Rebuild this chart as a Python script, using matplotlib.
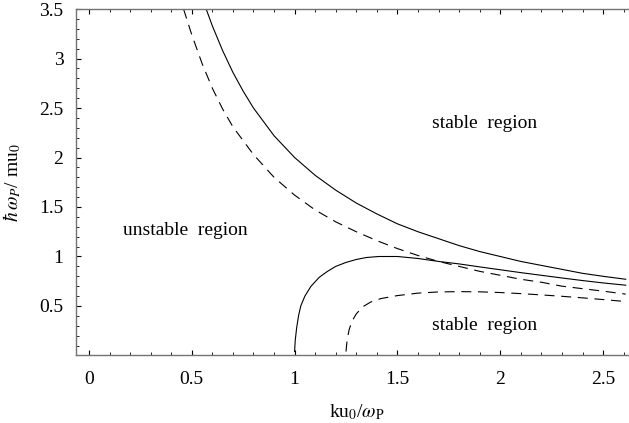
import numpy as np
import matplotlib
matplotlib.use("Agg")
import matplotlib.pyplot as plt
from matplotlib.ticker import MultipleLocator, FixedLocator

plt.rcParams['font.family'] = ['Liberation Serif', 'DejaVu Serif']
plt.rcParams['mathtext.fontset'] = 'stix'

# ---- data (K = k u0 / wP, H = hbar wP / m u0) ----
upper_solid_k = [0.57, 0.60, 0.65, 0.70, 0.75, 0.80, 0.90, 1.00, 1.10, 1.20, 1.30, 1.40,
                 1.50, 1.60, 1.70, 1.80, 1.90, 2.00, 2.10, 2.20, 2.30, 2.40, 2.50, 2.61]
upper_solid_h = [3.50, 3.33, 3.08, 2.86, 2.67, 2.50, 2.22, 2.00, 1.82, 1.67, 1.54, 1.43,
                 1.33, 1.25, 1.18, 1.11, 1.05, 1.00, 0.95, 0.91, 0.87, 0.83, 0.80, 0.77]

lower_solid_k = [1.000, 1.003, 1.01, 1.02, 1.03, 1.05, 1.08, 1.12, 1.16, 1.20, 1.25, 1.30,
                 1.35, 1.41, 1.50, 1.60, 1.70, 1.80, 1.90, 2.00, 2.10, 2.20, 2.30, 2.40,
                 2.50, 2.61]
lower_solid_h = [0.04, 0.15, 0.28, 0.41, 0.50, 0.60, 0.70, 0.79, 0.85, 0.90, 0.94, 0.97,
                 0.99, 1.00, 1.00, 0.98, 0.95, 0.925, 0.895, 0.866, 0.837, 0.81, 0.783, 0.757,
                 0.733, 0.71]

upper_dash_k = [0.46, 0.50, 0.55, 0.60, 0.65, 0.70, 0.80, 0.90, 1.00, 1.10, 1.20, 1.30,
                1.40, 1.50, 1.60, 1.70, 1.80, 1.90, 2.00, 2.10, 2.20, 2.30, 2.40, 2.50, 2.61]
upper_dash_h = [3.50, 3.24, 2.95, 2.70, 2.49, 2.31, 2.03, 1.80, 1.62, 1.47, 1.35, 1.25,
                1.16, 1.08, 1.01, 0.95, 0.90, 0.85, 0.81, 0.77, 0.74, 0.70, 0.675, 0.65, 0.62]

lower_dash_k = [1.25, 1.255, 1.265, 1.28, 1.30, 1.33, 1.37, 1.42, 1.50, 1.60, 1.70, 1.80,
                1.90, 2.00, 2.10, 2.20, 2.30, 2.40, 2.50, 2.61]
lower_dash_h = [0.04, 0.15, 0.26, 0.35, 0.42, 0.49, 0.54, 0.575, 0.605, 0.63, 0.642, 0.645,
                0.643, 0.636, 0.625, 0.612, 0.598, 0.582, 0.565, 0.545]

region_labels = ["stable  region", "unstable  region", "stable  region"]
region_pos = [(1.926, 2.34), (0.47, 1.26), (1.926, 0.30)]

x_ticks = [0, 0.5, 1, 1.5, 2, 2.5]
x_ticklabels = ["0", "0.5", "1", "1.5", "2", "2.5"]
y_ticks = [0.5, 1, 1.5, 2, 2.5, 3, 3.5]
y_ticklabels = ["0.5", "1", "1.5", "2", "2.5", "3", "3.5"]

fig = plt.figure(figsize=(6.29, 4.23), dpi=100)
ax = fig.add_axes([0.1208, 0.1596, 0.8792, 0.8191])

lw = 0.8
ax.plot(upper_solid_k, upper_solid_h, color='black', lw=lw)
ax.plot(lower_solid_k, lower_solid_h, color='black', lw=lw)
ax.plot(upper_dash_k, upper_dash_h, color='black', lw=lw, dashes=(9, 6))
ax.plot(lower_dash_k, lower_dash_h, color='black', lw=lw, dashes=(9, 6))

for txt, (x, y) in zip(region_labels, region_pos):
    ax.text(x, y, txt, ha='center', va='center', fontsize=14)

ax.set_xlim(-0.063, 2.626)
ax.set_ylim(0, 3.5)

# frame: left, bottom, top (right side is cut off)
ax.spines['right'].set_visible(False)
for s in ['left', 'bottom', 'top']:
    ax.spines[s].set_color('0.45')
    ax.spines[s].set_linewidth(1.0)

ax.xaxis.set_major_locator(FixedLocator(x_ticks))
ax.set_xticklabels(x_ticklabels)
ax.xaxis.set_minor_locator(MultipleLocator(0.1))
ax.yaxis.set_major_locator(FixedLocator(y_ticks))
ax.set_yticklabels(y_ticklabels)
ax.yaxis.set_minor_locator(MultipleLocator(0.1))

ax.tick_params(axis='x', which='both', direction='in', top=True, bottom=True,
               labeltop=False, labelsize=14, pad=11)
ax.tick_params(axis='y', which='both', direction='in', left=True, right=False,
               labelsize=14, pad=9)
ax.tick_params(which='major', length=3.5, width=0.8)
ax.tick_params(which='minor', length=2, width=0.6)

ax.set_xlabel(r'ku$_0$/$\omega_{\mathrm{P}}$', fontsize=14)
ax.xaxis.set_label_coords(0.508, -0.135)
ax.set_ylabel(r'$\hbar\,\omega_P$/ mu$_0$', fontsize=14)
ax.yaxis.set_label_coords(-0.095, 0.5)

fig.savefig("out.png", dpi=100)
